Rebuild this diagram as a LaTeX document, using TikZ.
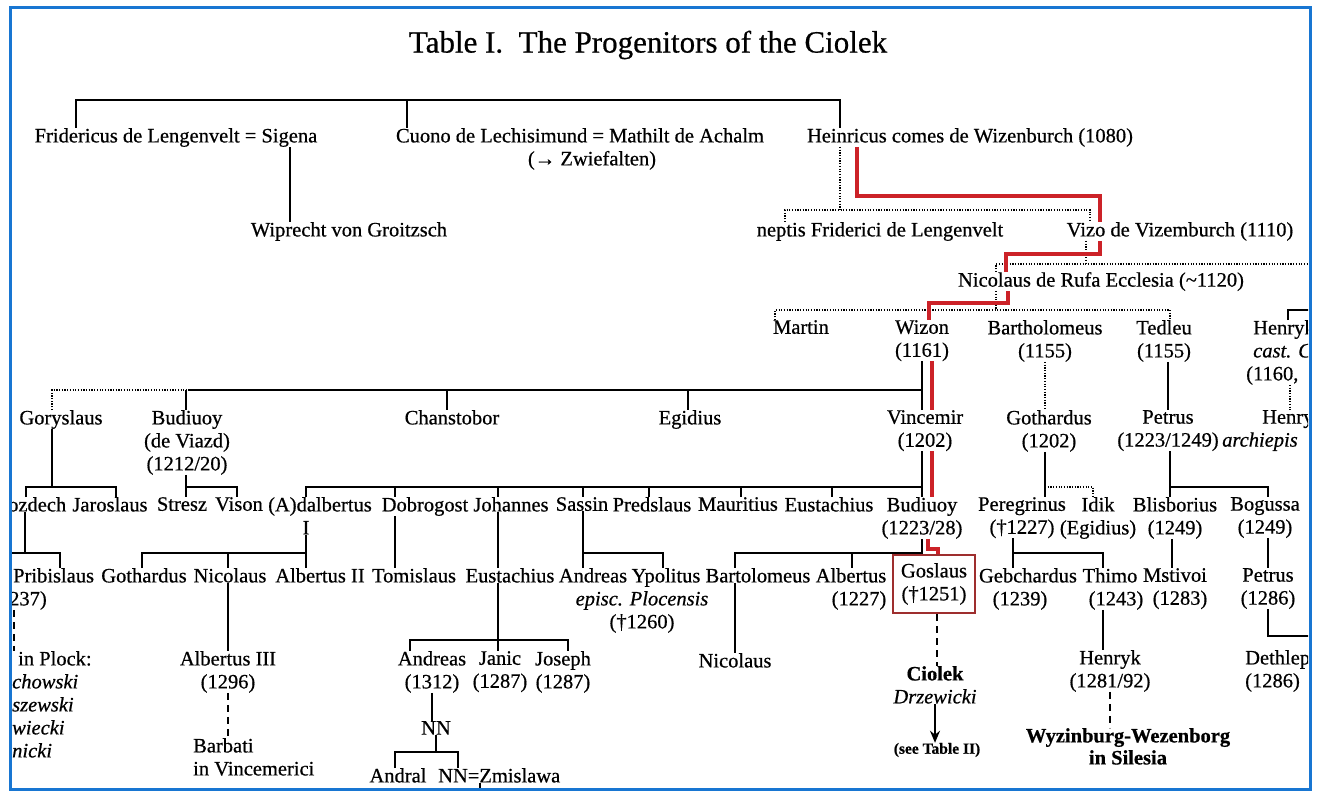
\documentclass[tikz,border=0pt]{standalone}
\usepackage{fontspec}
\setmainfont{Liberation Serif}[FakeBold=0.6]
\usetikzlibrary{arrows.meta}

\definecolor{redpathcol}{RGB}{204,34,40}
\definecolor{boxred}{RGB}{158,46,46}
\definecolor{frameblue}{RGB}{24,118,210}

\begin{document}
\begin{tikzpicture}[
    x=1pt, y=-1pt,
    every node/.style={inner sep=0pt, align=center,
        font=\fontsize{20.5}{23}\selectfont},
    person/.style={anchor=north, yshift=7pt},
    lperson/.style={anchor=north west, yshift=7pt, align=left},
    kin/.style={line width=1.8pt},
    kindot/.style={line width=2.2pt, dash pattern=on 1.2pt off 1.5pt},
    kindash/.style={line width=2.4pt, dash pattern=on 7pt off 5pt},
    redpath/.style={line width=4.5pt, draw=redpathcol},
    >={Stealth[length=12pt,width=10pt]}
]
\useasboundingbox (0,0) rectangle (1321,791);

\begin{scope}
\clip (12,10) rectangle (1308,788);

% titel
\node[font=\fontsize{31}{36}\selectfont] (title) at (648,45)
    {Table I.\ \ The Progenitors of the Ciolek};

% erste Reihe
\node[person] (fridericus) at (176,135) {Fridericus de Lengenvelt = Sigena};
\node[person] (cuono) at (580,135)
    {Cuono de Lechisimund = Mathilt de Achalm\\\hspace*{24pt}(→ Zwiefalten)};
\node[person] (heinricus) at (970,135) {Heinricus comes de Wizenburch (1080)};

\node[person] (wiprecht) at (349,229) {Wiprecht von Groitzsch};
\node[person] (neptis) at (880,229) {neptis Friderici de Lengenvelt};
\node[person] (vizo) at (1180,229) {Vizo de Vizemburch (1110)};
\node[person] (nicolaus) at (1101,279) {Nicolaus de Rufa Ecclesia (\textasciitilde1120)};

% Kinder des Nicolaus
\node[person] (martin) at (801,327) {Martin};
\node[person] (wizon) at (922,327) {Wizon\\(1161)};
\node[person] (bartholomeus) at (1045,327) {Bartholomeus\\(1155)};
\node[person] (tedleu) at (1164,327) {Tedleu\\(1155)};
\node[lperson] (henryk) at (1246,327)
    {\hspace*{7pt}Henryk\\\hspace*{7pt}\textit{cast. C}\\(1160,};

% Reihe um 1200
\node[person] (goryslaus) at (61,417) {Goryslaus};
\node[person] (budiuoyA) at (187,417) {Budiuoy\\(de Viazd)\\(1212/20)};
\node[person] (chanstobor) at (452,417) {Chanstobor};
\node[person] (egidius) at (690,417) {Egidius};
\node[person] (vincemir) at (925,417) {Vincemir\\(1202)};
\node[person] (gothardusA) at (1049,417) {Gothardus\\(1202)};
\node[person] (petrusA) at (1168,417) {Petrus\\(1223/1249)};
\node[lperson] (henry) at (1222,417) {\hspace*{40pt}Henry\\\textit{archiepis}};

% Reihe um 1220
\node[lperson] (ozdech) at (8,504) {ozdech};
\node[person] (jaroslaus) at (110,504) {Jaroslaus};
\node[person] (stresz) at (182,504) {Stresz};
\node[person] (vison) at (239,504) {Vison};
\node[person] (adalbertus) at (320,504) {(A)dalbertus\\I\hspace*{28pt}};
\node[person] (dobrogost) at (425,504) {Dobrogost};
\node[person] (johannes) at (511,504) {Johannes};
\node[person] (sassin) at (582,504) {Sassin};
\node[person] (predslaus) at (652,504) {Predslaus};
\node[person] (mauritius) at (738,504) {Mauritius};
\node[person] (eustachius) at (829,504) {Eustachius};
\node[person] (budiuoyB) at (922,504) {Budiuoy\\(1223/28)};
\node[person] (peregrinus) at (1022,504) {Peregrinus\\(†1227)};
\node[person] (idik) at (1098,504) {Idik\\(Egidius)};
\node[person] (blisborius) at (1175,504) {Blisborius\\(1249)};
\node[person] (bogussa) at (1265,504) {Bogussa\\(1249)};

% Reihe um 1250
\node[lperson] (pribislaus) at (9,575) {\hspace*{4pt}Pribislaus\\237)};
\node[person] (gothardusB) at (144,575) {Gothardus};
\node[person] (nicolausB) at (230,575) {Nicolaus};
\node[person] (albertusII) at (320,575) {Albertus II};
\node[person] (tomislaus) at (414,575) {Tomislaus};
\node[person] (eustachiusB) at (510,575) {Eustachius};
\node[person] (andreas) at (593,575) {Andreas};
\node[person] (ypolitus) at (642,575)
    {\hspace*{48pt}Ypolitus\\\textit{episc. Plocensis}\\(†1260)};
\node[person] (bartolomeus) at (758,575) {Bartolomeus};
\node[person] (albertusB) at (851,575) {Albertus\\\hspace*{16pt}(1227)};
\node[draw=boxred, line width=2.2pt, minimum width=82pt, minimum height=58pt]
    (goslaus) at (934,584) {Goslaus\\(†1251)};
\node[person] (gebchardus) at (1020,575) {\hspace*{16pt}Gebchardus\\(1239)};
\node[person] (thimo) at (1116,575) {Thimo\hspace*{12pt}\\(1243)};
\node[person] (mstivoi) at (1180,575) {Mstivoi\hspace*{10pt}\\(1283)};
\node[person] (petrusB) at (1268,575) {Petrus\\(1286)};

% letzte Reihen
\node[lperson] (plock) at (12,658)
    {\hspace*{6pt}in Plock:\\\textit{chowski}\\\textit{szewski}\\\textit{wiecki}\\\textit{nicki}};
\node[person] (albertusIII) at (228,658) {Albertus III\\(1296)};
\node[lperson] (barbati) at (193,745) {Barbati\\in Vincemerici};
\node[person] (andreasB) at (432,658) {Andreas\\(1312)};
\node[person] (janic) at (500,658) {Janic\\(1287)};
\node[person] (joseph) at (563,658) {Joseph\\(1287)};
\node[person] (nn) at (436,728) {NN};
\node[person] (andral) at (398,775) {Andral};
\node[lperson] (nnz) at (438,775) {NN=Zmislawa};
\node[person] (nicolausC) at (735,660) {Nicolaus};
\node[person] (ciolek) at (935,673) {\textbf{Ciolek}\\\textit{Drzewicki}};
\node[font=\fontsize{15.5}{18}\selectfont\bfseries] (seeII) at (937,750) {(see Table II)};
\node[person] (henrykB) at (1110,657) {Henryk\\(1281/92)};
\node[person, font=\fontsize{20.5}{22}\selectfont\bfseries] (wyzinburg) at (1128,735)
    {Wyzinburg-Wezenborg\\in Silesia};
\node[lperson] (dethlep) at (1245,657) {Dethlep\\(1286)};

% Linien oben
\draw[kin] (fridericus.north -| 76,0) |- (840,100) -- (heinricus.north -| 840,0);
\draw[kin] (407,100) -- (cuono.north -| 407,0);
\draw[kin] (fridericus.south -| 290,0) -- (wiprecht.north -| 290,0);

\draw[kindot] (heinricus.south -| 840,0) -- (840,210);
\draw[kindot] (neptis.north -| 785,0) |- (1090,210) -- (vizo.north -| 1090,0);
\draw[kindot] (vizo.south -| 1086,0) -- (1086,264);
\draw[kindot] (nicolaus.north -| 996,0) |- (1321,264);
\draw[kindot] (nicolaus.south -| 996,0) -- (996,310);
\draw[kindot] (martin.north -| 775,0) |- (1170,310) -- (tedleu.north -| 1170,0);
\draw[kin] (henryk.north -| 1288,0) |- (1321,310);

% Linien zur Reihe um 1200
\draw[kin] (wizon.south -| 922,0) -- (vincemir.north -| 922,0);
\draw[kindot] (goryslaus.north -| 52,0) |- (188,390);
\draw[kin] (188,390) -- (922,390);
\draw[kin] (budiuoyA.north -| 186,0) -- (186,390);
\draw[kin] (447,390) -- (chanstobor.north -| 447,0);
\draw[kin] (688,390) -- (egidius.north -| 688,0);
\draw[kindot] (bartholomeus.south -| 1045,0) -- (gothardusA.north -| 1045,0);
\draw[kin] (tedleu.south -| 1168,0) -- (petrusA.north -| 1168,0);
\draw[kindot] (henryk.south -| 1290,0) -- (henry.north -| 1290,0);

% Linien zur Reihe um 1220
\draw[kin] (goryslaus.south -| 52,0) -- (52,487);
\draw[kin] (ozdech.north -| 26,0) |- (116,487) -- (jaroslaus.north -| 116,0);
\draw[kin] (budiuoyA.south -| 186,0) -- (stresz.north -| 186,0);
\draw[kin] (186,487) -| (vison.north -| 237,0);
\draw[kin] (vincemir.south -| 922,0) -- (budiuoyB.north -| 922,0);
\draw[kin] (adalbertus.north -| 306,0) |- (922,487);
\foreach \tx/\kid in {395/dobrogost, 498/johannes, 583/sassin,
                      649/predslaus, 741/mauritius, 832/eustachius}
    \draw[kin] (\tx,487) -- (\kid.north -| \tx,0);
\draw[kin] (gothardusA.south -| 1045,0) -- (peregrinus.north -| 1045,0);
\draw[kindot] (1045,487) -| (idik.north -| 1093,0);
\draw[kin] (petrusA.south -| 1170,0) -- (blisborius.north -| 1170,0);
\draw[kin] (1170,487) -| (bogussa.north -| 1268,0);

% Linien zur Reihe um 1250
\draw[kin] (ozdech.south -| 25,0) -- (25,553);
\draw[kin] (12,553) -| (pribislaus.north -| 60,0);
\draw[kin] (adalbertus.south -| 306,0) -- (albertusII.north -| 306,0);
\draw[kin] (gothardusB.north -| 142,0) |- (306,553);
\draw[kin] (228,553) -- (nicolausB.north -| 228,0);
\draw[kin] (dobrogost.south -| 395,0) -- (tomislaus.north -| 395,0);
\draw[kin] (johannes.south -| 498,0) -- (eustachiusB.north -| 498,0);
\draw[kin] (sassin.south -| 583,0) -- (andreas.north -| 583,0);
\draw[kin] (583,553) -| (ypolitus.north -| 663,0);
\draw[kin] (budiuoyB.south -| 922,0) |- (735,553) -- (bartolomeus.north -| 735,0);
\draw[kin] (852,553) -- (albertusB.north -| 852,0);
\draw[kin] (peregrinus.south -| 1013,0) -- (gebchardus.north -| 1013,0);
\draw[kin] (1013,553) -| (thimo.north -| 1103,0);
\draw[kin] (blisborius.south -| 1172,0) -- (mstivoi.north -| 1172,0);
\draw[kin] (bogussa.south -| 1268,0) -- (petrusB.north -| 1268,0);

% Linien unten
\draw[kindash] (pribislaus.south -| 14,0) -- (plock.north -| 14,0);
\draw[kin] (nicolausB.south -| 228,0) -- (albertusIII.north -| 228,0);
\draw[kindash] (albertusIII.south -| 228,0) -- (barbati.north -| 228,0);
\draw[kin] (eustachiusB.south -| 498,0) -- (janic.north -| 498,0);
\draw[kin] (andreasB.north -| 410,0) |- (568,640) -- (joseph.north -| 568,0);
\draw[kin] (andreasB.south -| 432,0) -- (nn.north -| 432,0);
\draw[kin] (nn.south -| 436,0) -- (436,752);
\draw[kin] (andral.north -| 395,0) |- (458,752) -- (nnz.north -| 458,0);
\draw[kin] (nnz.south -| 480,0) -- (480,795);
\draw[kin] (bartolomeus.south -| 735,0) -- (nicolausC.north -| 735,0);
\draw[kindash] (goslaus.south -| 937,0) -- (ciolek.north -| 937,0);
\draw[kin,->] (ciolek.south -| 935,0) -- (seeII.north -| 935,0);
\draw[kin] (thimo.south -| 1103,0) -- (henrykB.north -| 1103,0);
\draw[kindash] (henrykB.south -| 1110,0) -- (wyzinburg.north -| 1110,0);
\draw[kin] (petrusB.south -| 1268,0) |- (1321,636);

% rote Linie
\draw[redpath] (heinricus.south -| 857,0) |- (1100,196) -- (vizo.north -| 1100,0);
\draw[redpath] (vizo.south -| 1100,0) |- (1006,254) -- (nicolaus.north -| 1006,0);
\draw[redpath] (nicolaus.south -| 1008,0) |- (929,303) -- (wizon.north -| 929,0);
\draw[redpath] (wizon.south -| 932,0) -- (vincemir.north -| 932,0);
\draw[redpath] (vincemir.south -| 932,0) -- (budiuoyB.north -| 932,0);
\draw[redpath] (budiuoyB.south -| 928,0) |- (938,549) -- (goslaus.north -| 938,0);
\end{scope}

% Rahmen
\draw[frameblue, line width=3pt] (10,8) rectangle (1310,789);
\end{tikzpicture}
\end{document}
